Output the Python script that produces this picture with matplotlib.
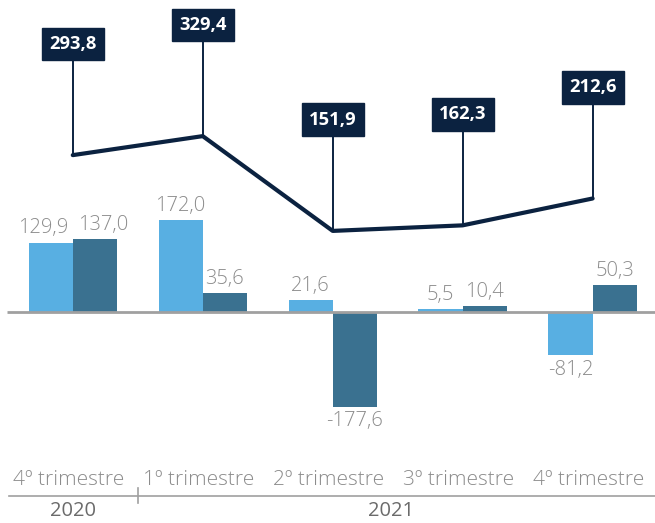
import matplotlib.pyplot as plt
import matplotlib.transforms as mtransforms
import numpy as np

categories = ["4º trimestre", "1º trimestre", "2º trimestre", "3º trimestre", "4º trimestre"]
years = ["2020", "2021"]
series_a = [129.9, 172.0, 21.6, 5.5, -81.2]
series_b = [137.0, 35.6, -177.6, 10.4, 50.3]
line_vals = [293.8, 329.4, 151.9, 162.3, 212.6]

LIGHT = "#58afe2"
DARK = "#3a7190"
NAVY = "#0b2240"
GREY = "#8c8c8c"
YEAR_GREY = "#6b6b6b"
AXIS_GREY = "#a0a0a0"

plt.rcParams['font.family'] = ['Open Sans', 'DejaVu Sans']

fig = plt.figure(figsize=(6.55, 5.23), dpi=100)
ax = fig.add_axes([0, 0, 1, 1])
ax.set_xlim(-0.56, 4.48)
ax.set_ylim(-395.1, 584.3)
ax.axis('off')

x = np.arange(len(categories))
w = 0.34
bars_a = ax.bar(x - w / 2, series_a, w, color=LIGHT, zorder=2)
bars_b = ax.bar(x + w / 2, series_b, w, color=DARK, zorder=2)

ax.plot([-0.505, 4.6], [0, 0], color=AXIS_GREY, lw=2, zorder=3, solid_capstyle='butt')

def fmt(v):
    return f"{v:.1f}".replace(".", ",")

label_shift = {(0, 0): -8, (0, 1): 8}
for si, (bars, vals) in enumerate([(bars_a, series_a), (bars_b, series_b)]):
    for i, (b, v) in enumerate(zip(bars, vals)):
        cx = b.get_x() + b.get_width() / 2
        dx = label_shift.get((i, si), 0)
        if v >= 0:
            ax.annotate(fmt(v), (cx, v), xytext=(dx * 0.72, 3), textcoords='offset points',
                        ha='center', va='bottom', fontsize=14.5, color=GREY,
                        fontweight='light')
        else:
            ax.annotate(fmt(v), (cx, v), xytext=(dx * 0.72, -3), textcoords='offset points',
                        ha='center', va='top', fontsize=14.5, color=GREY,
                        fontweight='light')

# line series
ax.plot(x, line_vals, color=NAVY, lw=3.0, zorder=4, solid_capstyle='round', solid_joinstyle='round')
stem = 208
for xi, v in zip(x, line_vals):
    ax.plot([xi, xi], [v, v + stem], color=NAVY, lw=1.4, zorder=4)
    ax.text(xi, v + stem, fmt(v), ha='center', va='center', fontsize=13.2,
            fontweight='bold', color='white', zorder=5,
            bbox=dict(boxstyle='square,pad=0.4', fc=NAVY, ec=NAVY))

# category axis
trans = mtransforms.blended_transform_factory(ax.transData, ax.transAxes)
for xi, c in zip(x, categories):
    ax.text(xi - 0.03, 0.0822, c, transform=trans, ha='center', va='center',
            fontsize=15, color=GREY, fontweight='light')
ax.plot([-0.49, 4.6], [0.0522, 0.0522], transform=trans, color=AXIS_GREY, lw=1.2,
        clip_on=False)
ax.plot([0.5, 0.5], [0.0382, 0.0675], transform=trans, color=AXIS_GREY, lw=1.2)
ax.text(0, 0.003, years[0], transform=trans, ha='center', va='bottom',
        fontsize=14.5, color=YEAR_GREY)
ax.text(2.45, 0.003, years[1], transform=trans, ha='center', va='bottom',
        fontsize=14.5, color=YEAR_GREY)

fig.savefig("out.png", dpi=100)
